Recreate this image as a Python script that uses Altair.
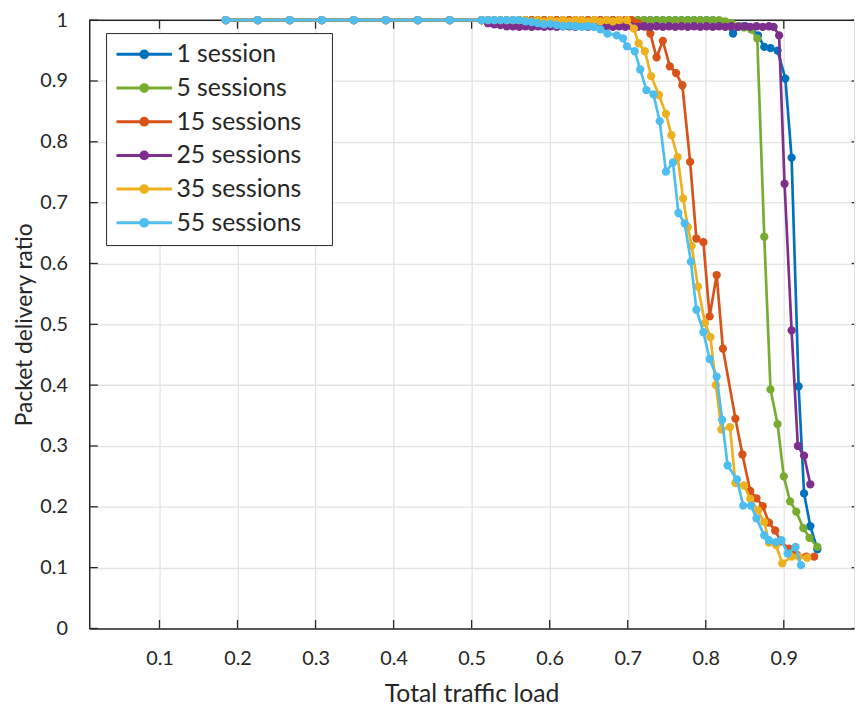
import altair as alt
import pandas as pd

# ---------------- data ----------------
series_names = ["1 session", "5 sessions", "15 sessions", "25 sessions", "35 sessions", "55 sessions"]
series_colors = ["#0072BD", "#77AC30", "#D95319", "#7E2F8E", "#EDB120", "#4DBEEE"]

x_top = [0.185, 0.226, 0.267, 0.308, 0.349, 0.390, 0.431, 0.472, 0.513, 0.521, 0.529, 0.537,
         0.545, 0.553, 0.561, 0.569, 0.577, 0.585, 0.593, 0.601, 0.609, 0.617, 0.625, 0.633]

s1_x = x_top + [0.641, 0.649, 0.657, 0.665, 0.673, 0.681, 0.689, 0.697, 0.705, 0.713, 0.721, 0.729,
                0.737, 0.745, 0.753, 0.761, 0.769, 0.777, 0.785, 0.793, 0.801, 0.809, 0.817, 0.825,
                0.835, 0.843, 0.851, 0.859, 0.867, 0.875, 0.883, 0.892, 0.902, 0.910, 0.919, 0.926,
                0.934, 0.943]
s1_y = [1.0, 1.0, 1.0, 1.0, 1.0, 1.0, 1.0, 1.0, 1.0, 1.0, 1.0, 1.0,
        1.0, 1.0, 1.0, 1.0, 1.0, 1.0, 1.0, 1.0, 1.0, 1.0, 1.0, 1.0,
        1.0, 1.0, 1.0, 1.0, 1.0, 1.0, 1.0, 1.0, 1.0, 1.0, 1.0, 1.0,
        1.0, 1.0, 1.0, 1.0, 1.0, 1.0, 1.0, 1.0, 1.0, 1.0, 0.998, 0.995,
        0.978, 0.990, 0.990, 0.985, 0.975, 0.956, 0.954, 0.950, 0.904, 0.774, 0.398, 0.222,
        0.168, 0.130]

s5_x = x_top + [0.641, 0.649, 0.657, 0.665, 0.673, 0.681, 0.689, 0.697, 0.705, 0.713, 0.721, 0.729,
                0.737, 0.745, 0.753, 0.761, 0.769, 0.777, 0.785, 0.793, 0.801, 0.809, 0.817, 0.825,
                0.833, 0.841, 0.849, 0.858, 0.866, 0.875, 0.883, 0.892, 0.900, 0.908, 0.916, 0.925,
                0.933, 0.943]
s5_y = [1.0, 1.0, 1.0, 1.0, 1.0, 1.0, 1.0, 1.0, 1.0, 1.0, 1.0, 1.0,
        1.0, 1.0, 1.0, 1.0, 1.0, 1.0, 1.0, 1.0, 1.0, 1.0, 1.0, 1.0,
        1.0, 1.0, 1.0, 1.0, 1.0, 1.0, 1.0, 1.0, 1.0, 1.0, 1.0, 1.0,
        1.0, 1.0, 1.0, 1.0, 1.0, 1.0, 1.0, 1.0, 1.0, 1.0, 1.0, 0.998,
        0.995, 0.990, 0.988, 0.985, 0.970, 0.644, 0.393, 0.336, 0.250, 0.209, 0.192, 0.165,
        0.149, 0.134]

s15_x = x_top + [0.641, 0.649, 0.657, 0.665, 0.673, 0.681, 0.689, 0.697, 0.705, 0.713, 0.721, 0.729,
                 0.737, 0.745, 0.754, 0.762, 0.770, 0.780, 0.788, 0.797, 0.805, 0.814, 0.822, 0.838,
                 0.847, 0.857, 0.865, 0.873, 0.881, 0.889, 0.896, 0.907, 0.917, 0.929, 0.939]
s15_y = [1.0, 1.0, 1.0, 1.0, 1.0, 1.0, 1.0, 1.0, 1.0, 1.0, 1.0, 1.0,
         1.0, 1.0, 1.0, 1.0, 1.0, 1.0, 1.0, 1.0, 1.0, 1.0, 1.0, 1.0,
         1.0, 1.0, 1.0, 1.0, 1.0, 1.0, 1.0, 1.0, 1.0, 0.995, 0.990, 0.978,
         0.939, 0.966, 0.924, 0.913, 0.893, 0.767, 0.641, 0.635, 0.513, 0.581, 0.460, 0.345,
         0.286, 0.226, 0.214, 0.201, 0.174, 0.161, 0.143, 0.131, 0.121, 0.118, 0.118]

s25_x = x_top + [0.641, 0.649, 0.657, 0.665, 0.673, 0.681, 0.689, 0.697, 0.705, 0.713, 0.721, 0.729,
                 0.737, 0.745, 0.753, 0.761, 0.769, 0.777, 0.785, 0.793, 0.801, 0.809, 0.817, 0.825,
                 0.833, 0.841, 0.849, 0.857, 0.865, 0.873, 0.881, 0.887, 0.894, 0.901, 0.910, 0.918,
                 0.926, 0.934]
s25_y = [1.0, 1.0, 1.0, 1.0, 1.0, 1.0, 1.0, 1.0, 1.0, 0.995, 0.993, 0.992,
         0.990, 0.990, 0.989, 0.990, 0.989, 0.990, 0.989, 0.990, 0.989, 0.990, 0.990, 0.989,
         0.990, 0.989, 0.990, 0.989, 0.990, 0.989, 0.990, 0.989, 0.990, 0.989, 0.990, 0.989,
         0.990, 0.989, 0.990, 0.989, 0.990, 0.989, 0.990, 0.989, 0.990, 0.989, 0.990, 0.989,
         0.990, 0.989, 0.990, 0.989, 0.990, 0.989, 0.990, 0.989, 0.975, 0.731, 0.490, 0.300,
         0.284, 0.237]

s35_x = x_top + [0.641, 0.649, 0.657, 0.665, 0.673, 0.681, 0.689, 0.699, 0.708, 0.714, 0.722, 0.730,
                 0.740, 0.749, 0.756, 0.764, 0.771, 0.777, 0.782, 0.790, 0.799, 0.806, 0.813, 0.820,
                 0.831, 0.838, 0.849, 0.857, 0.867, 0.875, 0.881, 0.890, 0.898, 0.910, 0.919, 0.930]
s35_y = [1.0, 1.0, 1.0, 1.0, 1.0, 1.0, 1.0, 1.0, 1.0, 1.0, 1.0, 1.0,
         1.0, 1.0, 1.0, 1.0, 0.998, 1.0, 0.998, 1.0, 0.998, 1.0, 0.998, 1.0,
         1.0, 0.998, 1.0, 0.998, 1.0, 0.998, 1.0, 1.0, 0.986, 0.962, 0.949, 0.908,
         0.877, 0.846, 0.811, 0.775, 0.707, 0.660, 0.629, 0.562, 0.502, 0.479, 0.400, 0.327,
         0.331, 0.239, 0.235, 0.213, 0.194, 0.175, 0.141, 0.137, 0.107, 0.118, 0.118, 0.116]

s55_x = x_top + [0.641, 0.649, 0.657, 0.665, 0.674, 0.686, 0.694, 0.699, 0.709, 0.716, 0.724, 0.733,
                 0.741, 0.749, 0.758, 0.765, 0.773, 0.781, 0.788, 0.797, 0.805, 0.814, 0.821, 0.828,
                 0.840, 0.848, 0.858, 0.865, 0.875, 0.881, 0.890, 0.897, 0.905, 0.915, 0.922]
s55_y = [1.0, 1.0, 1.0, 1.0, 1.0, 1.0, 1.0, 1.0, 1.0, 1.0, 1.0, 1.0,
         1.0, 1.0, 1.0, 0.998, 0.997, 0.995, 0.993, 0.994, 0.992, 0.990, 0.991, 0.990,
         0.989, 0.990, 0.989, 0.985, 0.978, 0.975, 0.970, 0.957, 0.949, 0.919, 0.885, 0.878,
         0.834, 0.751, 0.766, 0.683, 0.666, 0.603, 0.524, 0.487, 0.443, 0.414, 0.343, 0.268,
         0.245, 0.202, 0.202, 0.181, 0.153, 0.145, 0.142, 0.145, 0.123, 0.134, 0.104]

x_ticks = [0.1, 0.2, 0.3, 0.4, 0.5, 0.6, 0.7, 0.8, 0.9]
y_ticks = [0.0, 0.1, 0.2, 0.3, 0.4, 0.5, 0.6, 0.7, 0.8, 0.9, 1.0]
x_domain = [0.01, 0.99]
y_domain = [0.0, 1.0]

# ---------------- tables ----------------
all_x = [s1_x, s5_x, s15_x, s25_x, s35_x, s55_x]
all_y = [s1_y, s5_y, s15_y, s25_y, s35_y, s55_y]
rows = []
for name, xs, ys in zip(series_names, all_x, all_y):
    for i, (xv, yv) in enumerate(zip(xs, ys)):
        rows.append({"series": name, "load": xv, "pdr": yv, "idx": i})
df = pd.DataFrame(rows)

tick_len_y = 0.014
tick_len_x = 0.011
bottom_ticks = pd.DataFrame({"load": x_ticks, "pdr": [0.0] * len(x_ticks), "pdr2": [tick_len_y] * len(x_ticks)})
top_ticks = pd.DataFrame({"load": x_ticks, "pdr": [1.0] * len(x_ticks), "pdr2": [1.0 - tick_len_y] * len(x_ticks)})
left_ticks = pd.DataFrame({"pdr": y_ticks, "load": [x_domain[0]] * len(y_ticks), "load2": [x_domain[0] + tick_len_x] * len(y_ticks)})
right_ticks = pd.DataFrame({"pdr": y_ticks, "load": [x_domain[1]] * len(y_ticks), "load2": [x_domain[1] - 0.003] * len(y_ticks)})
top_border = pd.DataFrame({"load": [x_domain[0]], "load2": [x_domain[1]], "pdr": [1.0]})

FONT = "Lato"
INK = "#262626"
GRID = "#e3e3e3"

xscale = alt.Scale(domain=x_domain, nice=False, zero=False)
yscale = alt.Scale(domain=y_domain, nice=False, zero=False)
cscale = alt.Scale(domain=series_names, range=series_colors)

x_axis = alt.Axis(values=x_ticks, format="~g", grid=True, gridColor=GRID, gridWidth=1.3,
                  ticks=False, domain=True, domainColor=INK, domainWidth=1.5,
                  labelFont=FONT, labelFontSize=20, labelColor=INK, labelPadding=20,
                  title="Total traffic load", titleFont=FONT, titleFontSize=25,
                  titleFontWeight="normal", titleColor=INK, titlePadding=14)
y_axis = alt.Axis(values=y_ticks, format="~g", grid=True, gridColor=GRID, gridWidth=1.3,
                  ticks=False, domain=True, domainColor=INK, domainWidth=1.5,
                  labelFont=FONT, labelFontSize=20, labelColor=INK, labelPadding=22,
                  title="Packet delivery ratio", titleFont=FONT, titleFontSize=23,
                  titleFontWeight="normal", titleColor=INK, titlePadding=3)

X = alt.X("load:Q", scale=xscale, axis=x_axis, title="Total traffic load")
Y = alt.Y("pdr:Q", scale=yscale, axis=y_axis, title="Packet delivery ratio")

sym_path = ("M-5.6,0L5.6,0"
            "M0.68,0A0.68,0.68,0,1,1,-0.68,0A0.68,0.68,0,1,1,0.68,0"
            "M0.44,0A0.44,0.44,0,1,1,-0.44,0A0.44,0.44,0,1,1,0.44,0"
            "M0.16,0A0.16,0.16,0,1,1,-0.16,0A0.16,0.16,0,1,1,0.16,0")

legend = alt.Legend(title=None, orient="none", legendX=17, legendY=13,
                    strokeColor=INK, fillColor="white", padding=9,
                    labelFont=FONT, labelFontSize=25, labelColor=INK,
                    labelExpr="datum.label + '\u2003\u2009\u200b'",
                    labelLimit=300,
                    symbolType=sym_path, symbolSize=100, symbolStrokeWidth=3,
                    symbolOffset=17, labelOffset=20, rowPadding=8)

layers = []

frame = alt.Chart(top_border).mark_rule(color=INK, strokeWidth=1.5).encode(
    x=X, x2="load2:Q", y=Y,
)
layers.append(frame)

for tdf, vertical in [(bottom_ticks, True), (top_ticks, True), (left_ticks, False), (right_ticks, False)]:
    if vertical:
        enc = dict(x=X, y=Y, y2="pdr2:Q")
    else:
        enc = dict(x=X, x2="load2:Q", y=Y)
    layers.append(alt.Chart(tdf).mark_rule(color=INK, strokeWidth=1.3).encode(**enc))

for name in series_names:
    base = alt.Chart(df).transform_filter(alt.datum.series == name)
    enc = dict(
        x=X,
        y=Y,
        color=alt.Color("series:N", scale=cscale, legend=legend),
        order=alt.Order("idx:Q"),
    )
    layers.append(base.mark_line(strokeWidth=2.7, clip=False).encode(**enc))
    enc_p = dict(enc)
    enc_p.pop("order")
    layers.append(base.mark_point(filled=True, size=70, opacity=1, clip=False).encode(**enc_p))

chart = alt.layer(*layers).properties(
    width=772, height=614,
    autosize=alt.AutoSizeParams(type="none"),
    padding={"left": 82, "top": 9, "right": 2, "bottom": 75},
).configure_view(stroke=None).configure(background="white")

chart.save("out.html", embed_options={"renderer": "svg", "actions": False})
